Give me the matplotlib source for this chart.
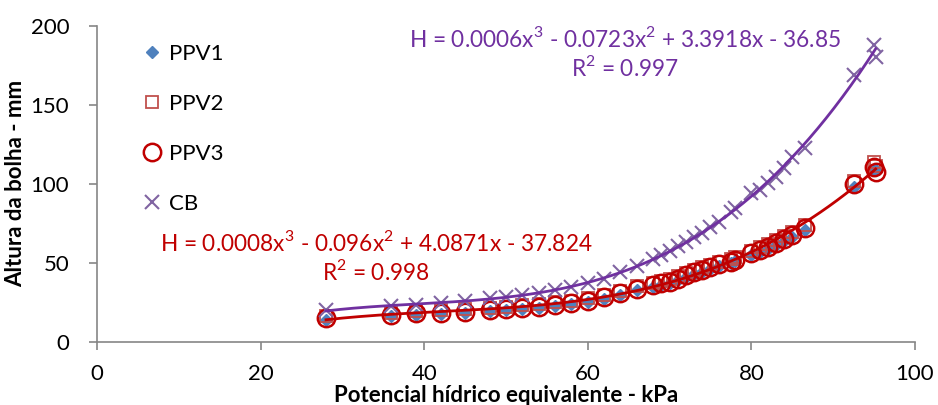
import numpy as np
import matplotlib.pyplot as plt

plt.rcParams['font.family'] = ['Lato', 'DejaVu Sans']
plt.rcParams['mathtext.fontset'] = 'custom'
plt.rcParams['mathtext.rm'] = 'Lato'

# Potencial hídrico equivalente (kPa)
potencial = [28, 36, 39, 42, 45, 48, 50, 52, 54, 56, 58, 60, 62, 64, 66, 68, 69, 70,
             71, 72, 73, 74, 75, 76, 77.5, 78, 80, 81, 82, 83, 84, 85, 86.5, 92.5, 95, 95.2]

# Altura da bolha (mm)
ppv1 = [14.0, 16.2, 17.2, 17.6, 18.3, 19.2, 19.8, 20.6, 21.3, 22.6, 23.6, 25.1, 27.0, 29.6,
        32.6, 34.8, 35.9, 37.0, 38.8, 40.9, 42.8, 44.3, 45.8, 47.8, 49.6, 50.8, 54.8, 56.8,
        58.9, 61.2, 63.8, 66.3, 70.5, 98.2, 109.0, 108.5]
ppv2 = [16.0, 18.3, 19.4, 19.8, 20.4, 21.6, 22.2, 23.0, 23.7, 25.0, 26.0, 27.5, 29.6, 32.1,
        35.0, 37.4, 38.5, 39.6, 41.6, 43.6, 45.6, 47.0, 48.6, 50.6, 52.2, 53.6, 57.6, 59.8,
        62.0, 64.3, 67.0, 69.6, 74.0, 102.0, 113.8, 111.5]
ppv3 = [14.8, 16.9, 18.0, 18.4, 19.0, 20.1, 20.6, 21.5, 22.2, 23.5, 24.5, 26.0, 28.0, 30.6,
        33.5, 35.9, 37.0, 38.0, 40.0, 42.0, 44.0, 45.4, 47.0, 49.0, 50.6, 52.0, 55.9, 58.0,
        60.1, 62.3, 65.0, 67.5, 71.8, 99.6, 110.8, 107.6]
cb = [20.0, 22.5, 23.5, 24.5, 25.5, 27.5, 28.5, 29.5, 31.0, 32.5, 34.5, 37.0, 40.0, 44.0,
      48.0, 52.5, 55.0, 57.5, 60.5, 63.0, 66.0, 69.0, 72.5, 76.0, 82.3, 84.4, 93.9, 96.0,
      100.3, 104.4, 109.7, 117.1, 122.4, 168.8, 187.8, 180.4]

eq_cb = "H = 0.0006x$^3$ - 0.0723x$^2$ + 3.3918x - 36.85\nR$^2$ = 0.997"
eq_ppv = "H = 0.0008x$^3$ - 0.096x$^2$ + 4.0871x - 37.824\nR$^2$ = 0.998"

x = np.array(potencial)

fig = plt.figure(figsize=(9.38, 4.05), dpi=100)
ax = fig.add_axes([0.1034, 0.1563, 0.872, 0.780])

ax.plot(x, ppv1, 'D', ms=6.5, color='#4F81BD', label='PPV1', zorder=3)
ax.plot(x, ppv2, 's', ms=8, mfc='none', mec='#C0504D', mew=1.3, label='PPV2', zorder=3)
ax.plot(x, ppv3, 'o', ms=12.5, mfc='none', mec='#C00000', mew=1.8, label='PPV3', zorder=3)
ax.plot(x, cb, 'x', ms=10, mec='#8064A2', mew=1.5, label='CB', zorder=3)

# polynomial trend lines (3rd order)
xs = np.linspace(x.min(), x.max(), 200)
all_ppv = np.concatenate([ppv1, ppv2, ppv3])
coef_ppv = np.polyfit(np.tile(x, 3), all_ppv, 3)
coef_cb = np.polyfit(x, cb, 3)
ax.plot(xs, np.polyval(coef_ppv, xs), color='#C00000', lw=2, zorder=4)
ax.plot(xs, np.polyval(coef_cb, xs), color='#7030A0', lw=2, zorder=4)

ax.text(64.5, 183, eq_cb, color='#7030A0', fontsize=16.3, ha='center', va='center',
        linespacing=1.2)
ax.text(34.1, 53.6, eq_ppv, color='#C00000', fontsize=16.3, ha='center', va='center',
        linespacing=1.2)

ax.set_xlim(0, 100)
ax.set_ylim(0, 200)
ax.set_xticks(range(0, 101, 20))
ax.set_yticks(range(0, 201, 50))
ax.tick_params(labelsize=16, length=6, width=1.2, color='#868686', pad=10)
ax.tick_params(axis='y', pad=14)
for s in ['top', 'right']:
    ax.spines[s].set_visible(False)
for s in ['left', 'bottom']:
    ax.spines[s].set_color('#868686')
    ax.spines[s].set_linewidth(1.2)

ax.set_xlabel('Potencial hídrico equivalente - kPa', fontsize=16, fontweight='bold',
              labelpad=1)
ax.set_ylabel('Altura da bolha - mm', fontsize=16, fontweight='bold', labelpad=3)

ax.legend(loc='upper left', bbox_to_anchor=(0.045, 0.97), frameon=False, fontsize=16,
          labelspacing=1.35, handlelength=0.8, handletextpad=0.4, borderaxespad=0)

fig.savefig('out.png', dpi=100)
